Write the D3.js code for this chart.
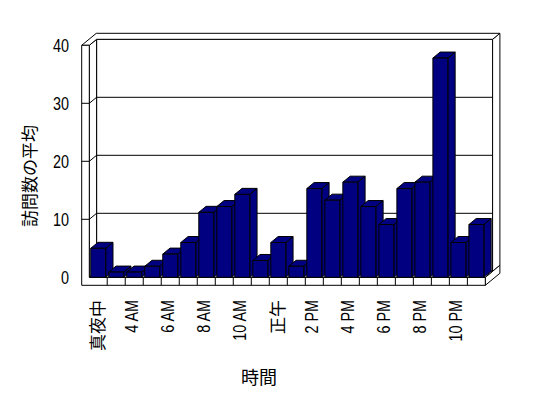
<!DOCTYPE html>
<html>
<head>
<meta charset="utf-8">
<script src="https://cdn.jsdelivr.net/npm/d3@7"></script>
<style>
  body { margin: 0; background: #fff; }
  svg text { font-family: "Liberation Sans", "Noto Sans CJK JP", sans-serif; fill: #000; }
</style>
</head>
<body>
<svg id="chart" width="548" height="398"></svg>
<script>
// data
var hours = ["真夜中", "1 AM", "4 AM", "5 AM", "6 AM", "7 AM", "8 AM", "9 AM", "10 AM", "11 AM",
             "正午", "1 PM", "2 PM", "3 PM", "4 PM", "5 PM", "6 PM", "7 PM", "8 PM", "9 PM", "10 PM", "11 PM"];
var visits = [5, 0.9, 0.9, 1.9, 4, 6, 11.2, 12.2, 14.3, 2.9, 6, 1.9,
              15.3, 13.3, 16.4, 12.2, 9.1, 15.3, 16.4, 37.8, 6, 9.1];
var yTicks = [0, 10, 20, 30, 40];
var yTitle = "訪問数の平均";
var xTitle = "時間";

// box geometry
var X0 = 89.3, X1 = 485.3;
var dx = 7.3, dy = -6;      // depth offset
var wallT = 7.6, floorT = 8;
var barColor = "#000080";

var svg = d3.select("#chart");

var x = d3.scaleBand().domain(hours).range([X0, X1]).paddingInner(0.17).paddingOuter(0.08);
var y = d3.scaleLinear().domain([0, 40]).range([277.3, 45.3]);

var Y0 = y(0), YT = y(40);

function poly(pts) { return "M" + pts.map(function(p) { return p.join(","); }).join("L") + "Z"; }
function face(pts, fill) {
  svg.append("path").attr("d", poly(pts)).attr("fill", fill || "#fff")
    .attr("stroke", "#000").attr("stroke-width", 1).attr("stroke-linejoin", "miter");
}

// back wall front face
face([[X0 + dx, YT + dy], [X1 + dx, YT + dy], [X1 + dx, Y0 + dy], [X0 + dx, Y0 + dy]]);
// back wall right end
face([[X1 + dx, YT + dy], [X1 + 2 * dx, YT + 2 * dy], [X1 + 2 * dx, Y0 + 2 * dy], [X1 + dx, Y0 + dy]]);
// floor right end
face([[X1, Y0], [X1 + 2 * dx, Y0 + 2 * dy], [X1 + 2 * dx, Y0 + floorT + 2 * dy], [X1, Y0 + floorT]]);

// gridlines on back wall
var inner = yTicks.filter(function(v) { return v > 0 && v < 40; });
svg.selectAll("line.grid").data(inner)
  .enter().append("line").attr("class", "grid")
  .attr("x1", X0 + dx).attr("x2", X1 + dx)
  .attr("y1", function(v) { return y(v) + dy; }).attr("y2", function(v) { return y(v) + dy; })
  .attr("stroke", "#000");

// left wall inner face
face([[X0, YT], [X0 + dx, YT + dy], [X0 + dx, Y0 + dy], [X0, Y0]]);
svg.selectAll("line.sgrid").data(inner)
  .enter().append("line").attr("class", "sgrid")
  .attr("x1", X0).attr("x2", X0 + dx)
  .attr("y1", function(v) { return y(v); }).attr("y2", function(v) { return y(v) + dy; })
  .attr("stroke", "#000");

// top of walls (left wall + back wall)
face([[X0 - wallT, YT], [X0, YT], [X0 + dx, YT + dy], [X1 + dx, YT + dy],
      [X1 + 2 * dx, YT + 2 * dy], [X0 - wallT + 2 * dx, YT + 2 * dy]]);

// front face of left wall + floor
face([[X0 - wallT, YT], [X0, YT], [X0, Y0], [X1, Y0], [X1, Y0 + floorT], [X0 - wallT, Y0 + floorT]]);
svg.selectAll("line.ytick").data(inner)
  .enter().append("line").attr("class", "ytick")
  .attr("x1", X0 - wallT).attr("x2", X0)
  .attr("y1", function(v) { return y(v); }).attr("y2", function(v) { return y(v); })
  .attr("stroke", "#000");

// floor top
face([[X0, Y0], [X1, Y0], [X1 + dx, Y0 + dy], [X0 + dx, Y0 + dy]]);

// category ticks on floor front
var gap = x.step() * x.paddingInner() / 2;
svg.selectAll("line.xtick").data(hours.slice(0, -1))
  .enter().append("line").attr("class", "xtick")
  .attr("x1", function(d) { return x(d) + x.bandwidth() + gap; })
  .attr("x2", function(d) { return x(d) + x.bandwidth() + gap; })
  .attr("y1", Y0).attr("y2", Y0 + floorT)
  .attr("stroke", "#000");

// bars
hours.forEach(function(h, i) {
  var x0 = x(h), x1 = x(h) + x.bandwidth(), yt = y(visits[i]);
  face([[x1, yt], [x1 + dx, yt + dy], [x1 + dx, Y0 + dy], [x1, Y0]], barColor);
  face([[x0, yt], [x0 + dx, yt + dy], [x1 + dx, yt + dy], [x1, yt]], barColor);
  face([[x0, yt], [x1, yt], [x1, Y0], [x0, Y0]], barColor);
});

// y tick labels (narrow, tall digits)
svg.selectAll("text.ylab").data(yTicks).enter().append("text").attr("class", "ylab")
  .attr("transform", function(v) { return "translate(69," + y(v) + ") scale(0.8,1)"; })
  .attr("text-anchor", "end").attr("dominant-baseline", "central")
  .attr("font-size", 18).text(function(v) { return v; });

// x tick labels, every other category
var isCJK = function(s) { return /[\u3000-\u9fff]/.test(s); };
svg.selectAll("text.xlab").data(hours.filter(function(d, i) { return i % 2 === 0; }))
  .enter().append("text").attr("class", "xlab")
  .attr("transform", function(d) {
    var cx = x(d) + x.bandwidth() / 2 + (isCJK(d) ? 0 : -3);
    return "translate(" + cx + ",300) rotate(-90)" + (isCJK(d) ? "" : " scale(0.8,1)");
  })
  .attr("text-anchor", "end").attr("dominant-baseline", "central")
  .attr("font-size", function(d) { return isCJK(d) ? 17 : 18; })
  .text(function(d) { return d; });

// axis titles
svg.append("text").attr("transform", "translate(30,176) rotate(-90)")
  .attr("text-anchor", "middle").attr("dominant-baseline", "central")
  .attr("font-size", 17).text(yTitle);
svg.append("text").attr("x", 259).attr("y", 378)
  .attr("text-anchor", "middle").attr("dominant-baseline", "central")
  .attr("font-size", 18).text(xTitle);
</script>
</body>
</html>
